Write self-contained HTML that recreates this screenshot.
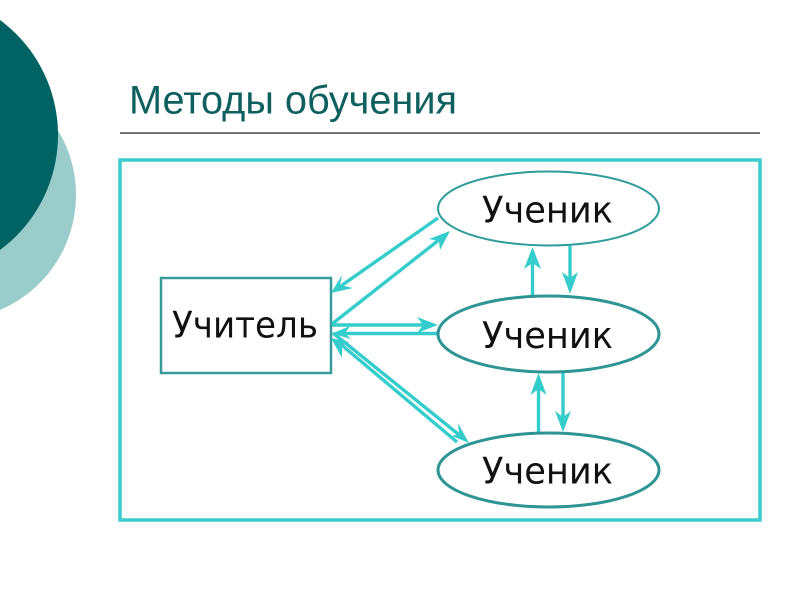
<!DOCTYPE html>
<html>
<head>
<meta charset="utf-8">
<style>
html,body{margin:0;padding:0;background:#fff;}
svg{display:block;}
</style>
</head>
<body>
<svg width="800" height="600" viewBox="0 0 800 600" xmlns="http://www.w3.org/2000/svg">
<rect width="800" height="600" fill="#fff"/>
<circle cx="-49" cy="195" r="125" fill="#9bcccc"/>
<circle cx="-85" cy="135" r="143" fill="#006262"/>
<text x="129" y="113.500" font-family="'Liberation Sans',sans-serif" font-size="39.500" fill="#0f5f5f" textLength="328" lengthAdjust="spacingAndGlyphs">Методы обучения</text>
<rect x="120" y="132.300" width="640" height="1.500" fill="#444"/>
<rect x="120" y="160" width="640" height="360" fill="none" stroke="#3fcece" stroke-width="3.600"/>
<rect x="161" y="278" width="170" height="95" fill="#fff" stroke="#3a9a9a" stroke-width="2.500"/>
<g stroke="#35cccc" stroke-width="3.400" fill="none">
<line x1="438" y1="218" x2="338" y2="288"/>
<line x1="332" y1="324" x2="444" y2="236"/>
<line x1="332" y1="325" x2="431" y2="325"/>
<line x1="438" y1="333.500" x2="340" y2="333.500"/>
<line x1="333" y1="333" x2="463" y2="438"/>
<line x1="457" y1="442" x2="338" y2="342"/>
<line x1="532.500" y1="295" x2="532.500" y2="254"/>
<line x1="570" y1="246" x2="570" y2="287"/>
<line x1="538.500" y1="433" x2="538.500" y2="380"/>
<line x1="563" y1="372" x2="563" y2="425"/>
</g>
<g fill="#35cccc" stroke="none">
<polygon points="331,293 342,275 340,285 353,288"/>
<polygon points="450,231 440,250 439,241 429,239"/>
<polygon points="438,325 417,317 423,325 417,333"/>
<polygon points="332,333.500 350,326 345,333.500 351,339"/>
<polygon points="469,443 452,436 459,434 458,423"/>
<polygon points="331,338 349,342 342,346 342,358"/>
<polygon points="532.500,247 524,269 532.500,263 541,269"/>
<polygon points="570,294 562,272 570,278 578,272"/>
<polygon points="538.500,373 530.500,395 538.500,389 546.500,395"/>
<polygon points="563,432 555,411 563,417 571,411"/>
</g>
<ellipse cx="548.500" cy="208.500" rx="110.500" ry="37" fill="#fff" stroke="#2f9c9c" stroke-width="2"/>
<ellipse cx="548.500" cy="334" rx="110.500" ry="38" fill="#fff" stroke="#2f9494" stroke-width="3"/>
<ellipse cx="548.500" cy="470" rx="110.500" ry="37" fill="#fff" stroke="#2f9494" stroke-width="3"/>
<g font-family="'DejaVu Sans',sans-serif" font-size="36.500" fill="#111">
<text x="172" y="337.500" textLength="146" lengthAdjust="spacingAndGlyphs">Учитель</text>
<text x="482" y="222.500" textLength="131" lengthAdjust="spacingAndGlyphs">Ученик</text>
<text x="482" y="348" textLength="131" lengthAdjust="spacingAndGlyphs">Ученик</text>
<text x="482" y="483.500" textLength="131" lengthAdjust="spacingAndGlyphs">Ученик</text>
</g>
</svg>
</body>
</html>
